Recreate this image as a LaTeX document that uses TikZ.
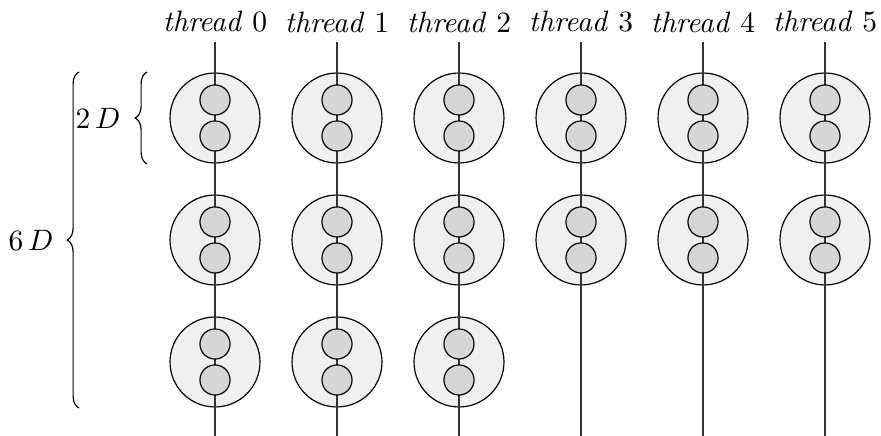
\documentclass[tikz,border=0pt]{standalone}
\usetikzlibrary{decorations.pathreplacing}
\begin{document}
\begin{tikzpicture}[x=0.339pt,y=-0.339pt,
  bigc/.style={circle,draw,fill=black!6,minimum size=30.5pt,inner sep=0pt},
  smallc/.style={circle,draw,fill=black!16,minimum size=10.2pt,inner sep=0pt},
  wire/.style={draw=black!80},
  lbl/.style={inner sep=0pt},
  curly/.style={draw,decorate,decoration={brace,amplitude=4pt}}]
\useasboundingbox (0,0) rectangle (881,436);
\foreach \i/\rows in {0/3,1/3,2/3,3/2,4/2,5/2} {
  \foreach \r in {1,...,\rows} {
    \pgfmathsetmacro\cx{215+122*\i}
    \pgfmathsetmacro\cy{118+122*(\r-1)}
    \node[bigc] (c\i\r) at (\cx,\cy) {};
  }
}
\foreach \i in {0,...,5} {
  \pgfmathsetmacro\cx{215+122*\i}
  \node[lbl] (t\i) at (\cx,22) {\textit{thread} \i};
  \coordinate (a\i) at (\cx,42);
  \coordinate (b\i) at (\cx,436);
  \draw[wire] (a\i) -- (b\i);
}
\foreach \i/\rows in {0/3,1/3,2/3,3/2,4/2,5/2} {
  \foreach \r in {1,...,\rows} {
    \pgfmathsetmacro\cx{215+122*\i}
    \pgfmathsetmacro\cy{118+122*(\r-1)}
    \node[smallc] (u\i\r) at (\cx,\cy-18) {};
    \node[smallc] (d\i\r) at (\cx,\cy+18) {};
  }
}
\coordinate (s2a) at (147,164);
\coordinate (s2b) at (147,72);
\draw[curly] (s2a) -- (s2b);
\node[lbl] (l2) at (98,118) {$2\,D$};
\coordinate (s6a) at (79,408);
\coordinate (s6b) at (79,72);
\draw[curly] (s6a) -- (s6b);
\node[lbl] (l6) at (31,240) {$6\,D$};
\end{tikzpicture}
\end{document}
